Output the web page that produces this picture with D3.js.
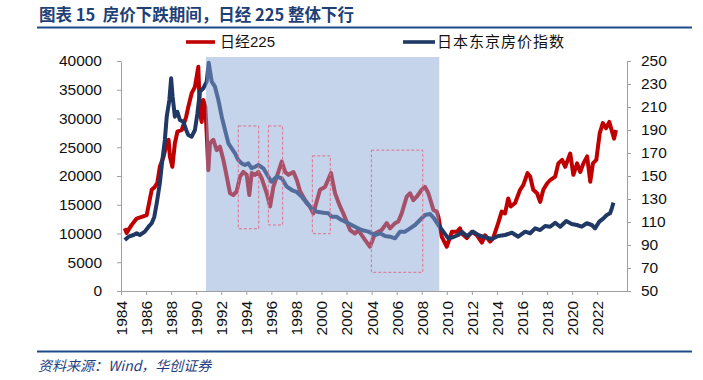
<!DOCTYPE html>
<html><head><meta charset="utf-8">
<script src="https://cdn.jsdelivr.net/npm/d3@7/dist/d3.min.js"></script>
<style>body{margin:0;background:#fff}svg{display:block}text{white-space:pre}</style>
</head><body><svg id="c" width="703" height="380"></svg>
<script>
const nikkeiYears = [1984.3,1984.45,1984.85,1985.25,1985.65,1986.05,1986.26,1986.45,1986.7,1986.9,1987.1,1987.4,1987.65,1987.8,1987.9,1988.1,1988.3,1988.5,1988.85,1989.2,1989.37,1989.64,1989.9,1990.17,1990.3,1990.44,1990.57,1990.73,1990.84,1990.97,1991.1,1991.37,1991.64,1991.9,1992.17,1992.44,1992.7,1992.96,1993.23,1993.5,1993.76,1994.03,1994.24,1994.43,1994.7,1994.96,1995.23,1995.63,1995.9,1996.16,1996.56,1996.83,1997.1,1997.36,1997.76,1998.03,1998.3,1998.7,1999.07,1999.35,1999.88,2000.28,2000.76,2001.08,2001.48,2001.74,2002.28,2002.67,2002.94,2003.47,2003.87,2004.27,2004.8,2005.2,2005.47,2005.87,2006.13,2006.4,2006.8,2007.07,2007.33,2007.6,2008.0,2008.26,2008.53,2008.93,2009.2,2009.33,2009.6,2010.0,2010.4,2010.8,2011.05,2011.2,2011.6,2012.0,2012.4,2012.8,2013.05,2013.45,2013.7,2014.1,2014.38,2014.65,2014.9,2015.1,2015.45,2015.85,2016.1,2016.44,2016.65,2016.9,2017.2,2017.45,2017.7,2018.0,2018.25,2018.65,2018.9,2019.2,2019.45,2019.85,2020.1,2020.4,2020.65,2020.9,2021.2,2021.45,2021.66,2021.93,2022.2,2022.45,2022.7,2022.97,2023.15,2023.35,2023.5];
const nikkeiValues = [10900,10100,11500,12600,12900,13200,15500,17600,18100,18800,21600,23400,25700,26300,23400,21600,25700,27700,28000,30300,32000,34400,35500,39000,30900,29400,33200,32000,27400,21000,25700,26300,24500,25100,22800,19900,17000,16700,17300,19900,20700,20200,16700,20500,20200,20700,19600,17000,14700,18100,20700,22500,20700,20200,20700,19300,17300,15800,14700,13500,17600,18100,20500,17000,14700,13500,10600,10000,10600,8900,7700,10000,10600,11800,10900,11800,12100,13500,16400,17000,15800,16400,17600,18100,17000,14100,13800,12900,9400,7700,10300,10300,10900,10000,9200,10300,9700,8400,9700,8600,9200,11800,13800,13500,16100,14700,15300,17600,18400,20500,19900,17600,17000,15500,17600,18700,19300,19900,22200,22800,21600,23900,20200,22200,20700,22200,23400,19000,22200,22800,27400,29200,28300,29400,28000,26500,28000];
const houseYears = [1984.3,1984.6,1985.0,1985.25,1985.5,1985.9,1986.2,1986.45,1986.66,1986.85,1987.1,1987.27,1987.5,1987.65,1987.86,1988.0,1988.12,1988.3,1988.5,1988.7,1988.97,1989.2,1989.37,1989.64,1989.9,1990.1,1990.3,1990.57,1990.84,1991.0,1991.24,1991.5,1991.77,1992.04,1992.3,1992.57,1992.83,1993.1,1993.36,1993.63,1993.9,1994.16,1994.43,1994.7,1994.96,1995.36,1995.76,1996.0,1996.43,1996.83,1997.23,1997.63,1998.0,1998.43,1998.83,1999.23,1999.63,2000.15,2000.55,2000.8,2001.2,2001.6,2002.14,2002.67,2003.2,2003.74,2004.27,2004.67,2005.07,2005.47,2005.87,2006.27,2006.67,2007.07,2007.46,2007.86,2008.26,2008.66,2008.98,2009.32,2009.72,2010.12,2010.4,2010.92,2011.2,2011.6,2012.1,2012.5,2013.05,2013.6,2014.1,2014.65,2015.2,2015.7,2016.25,2016.65,2017.05,2017.45,2017.85,2018.25,2018.65,2019.05,2019.53,2019.97,2020.37,2020.77,2021.17,2021.57,2021.83,2022.17,2022.5,2022.77,2023.03,2023.17,2023.3];
const houseValues = [94.3,97.2,98.7,100.2,98.7,101.6,105.9,108.9,114.6,126.3,143.7,161.0,181.3,201.6,216.1,234.9,219.0,201.6,205.9,198.7,197.2,190.0,185.7,184.2,190.0,204.5,223.3,226.3,232.0,248.5,232.0,227.7,216.1,201.6,190.0,178.4,174.1,169.7,163.9,161.0,159.6,161.0,156.7,158.1,159.6,156.7,149.4,145.0,149.4,148.0,140.7,137.8,136.3,132.0,126.3,121.9,119.0,118.1,117.6,114.6,114.6,111.7,108.9,105.9,103.0,101.6,98.7,100.2,97.8,97.2,95.8,101.6,101.6,104.5,107.4,111.7,116.1,117.0,113.2,107.4,101.6,95.8,96.4,98.7,101.6,97.8,101.6,98.7,96.7,95.2,97.8,98.7,100.7,97.2,101.6,100.2,104.5,103.0,106.5,105.9,109.4,105.9,110.9,108.3,107.4,105.9,108.9,107.4,104.5,110.3,113.2,116.1,117.6,121.9,126.8];
const xTicks = d3.range(1984, 2023, 2);
const leftTicks = d3.range(0, 40001, 5000);
const rightTicks = d3.range(50, 251, 20);
const shadeYears = [1990.78, 2009.4];
const shadeTop = 40700;
const boxStart = [1993.36, 1995.76, 1999.27, 2003.98];
const boxEnd = [1994.99, 1996.9, 2000.7, 2008.08];
const boxLow = [10830, 11480, 9970, 3250];
const boxHigh = [28700, 28700, 23500, 24500];
const seriesNames = ["日经225", "日本东京房价指数"];
const titleText = "图表 15  房价下跌期间，日经 225 整体下行";
const sourceText = "资料来源：Wind，华创证券";

const svg = d3.select("#c");
const x = d3.scaleLinear().domain([1984, 2024.38]).range([121, 627]);
const yL = d3.scaleLinear().domain([0, 40000]).range([291, 61]);
const yR = d3.scaleLinear().domain([50, 250]).range([291, 61]);
const numFont = "'Liberation Sans', Arial, 'Noto Sans CJK SC', sans-serif";
const cjkFont = "'Noto Sans CJK SC', sans-serif";

// title
svg.append("text").attr("x", 39).attr("y", 21).attr("font-family", cjkFont)
  .attr("font-weight", "bold").attr("font-size", 16.5).attr("fill", "#1F3F77").text(titleText);
svg.append("line").attr("x1", 37).attr("x2", 692).attr("y1", 27.5).attr("y2", 27.5)
  .attr("stroke", "#1F4A8A").attr("stroke-width", 2);
svg.append("line").attr("x1", 37).attr("x2", 692).attr("y1", 351.5).attr("y2", 351.5)
  .attr("stroke", "#1F4A8A").attr("stroke-width", 2);
svg.append("text").attr("x", 38).attr("y", 371).attr("font-family", cjkFont)
  .attr("font-style", "italic").attr("font-size", 14).attr("fill", "#1F3F7F").text(sourceText);

// lines
const redLine = d3.line().x(i => x(nikkeiYears[i])).y(i => yL(nikkeiValues[i]));
const navyLine = d3.line().x(i => x(houseYears[i])).y(i => yR(houseValues[i]));
svg.append("path").attr("d", redLine(d3.range(nikkeiYears.length))).attr("fill", "none")
  .attr("stroke", "#C00000").attr("stroke-width", 4).attr("stroke-linejoin", "round");
svg.append("path").attr("d", navyLine(d3.range(houseYears.length))).attr("fill", "none")
  .attr("stroke", "#1F3864").attr("stroke-width", 4).attr("stroke-linejoin", "round");

// shade
svg.append("rect").attr("x", x(shadeYears[0])).attr("width", x(shadeYears[1]) - x(shadeYears[0]))
  .attr("y", yL(shadeTop)).attr("height", yL(0) - yL(shadeTop))
  .attr("fill", "rgb(136,165,214)").attr("fill-opacity", 0.49);

// boxes
svg.selectAll("rect.box").data(d3.range(boxStart.length)).join("rect").attr("class", "box")
  .attr("x", i => x(boxStart[i])).attr("width", i => x(boxEnd[i]) - x(boxStart[i]))
  .attr("y", i => yL(boxHigh[i])).attr("height", i => yL(boxLow[i]) - yL(boxHigh[i]))
  .attr("fill", "none").attr("stroke", "#E0708E").attr("stroke-width", 1).attr("stroke-dasharray", "3,2");

// axes
function styleAxis(g) {
  g.selectAll("path.domain").attr("stroke", "#A0A0A0");
  g.selectAll(".tick line").attr("stroke", "#A0A0A0");
  g.selectAll("text").attr("font-family", numFont).attr("font-size", 15.5).attr("fill", "#111");
}
const gl = svg.append("g").attr("transform", "translate(121,0)")
  .call(d3.axisLeft(yL).tickValues(leftTicks).tickSize(4).tickSizeOuter(0).tickPadding(15).tickFormat(d3.format("d")));
styleAxis(gl);
const gr = svg.append("g").attr("transform", "translate(627,0)")
  .call(d3.axisRight(yR).tickValues(rightTicks).tickSize(4).tickSizeOuter(0).tickPadding(10).tickFormat(d3.format("d")));
styleAxis(gr);
const gx = svg.append("g").attr("transform", "translate(0,291)")
  .call(d3.axisBottom(x).tickValues(xTicks).tickSize(4).tickSizeOuter(0).tickFormat(d3.format("d")));
styleAxis(gx);
gx.selectAll(".tick text").attr("transform", "rotate(-90)").attr("x", -10).attr("y", 0)
  .attr("dy", "0.35em").attr("text-anchor", "end");

// legend
const legend = [
  {x1: 186, x2: 215, tx: 220, color: "#C00000", name: seriesNames[0], ls: 0},
  {x1: 403, x2: 435, tx: 437, color: "#1F3864", name: seriesNames[1], ls: 1}
];
legend.forEach(l => {
  svg.append("line").attr("x1", l.x1).attr("x2", l.x2).attr("y1", 42).attr("y2", 42)
    .attr("stroke", l.color).attr("stroke-width", 3.6);
  svg.append("text").attr("x", l.tx).attr("y", 42).attr("dy", "0.35em")
    .attr("font-family", numFont).attr("font-size", 15).attr("letter-spacing", l.ls)
    .attr("fill", "#111").text(l.name);
});
</script></body></html>
